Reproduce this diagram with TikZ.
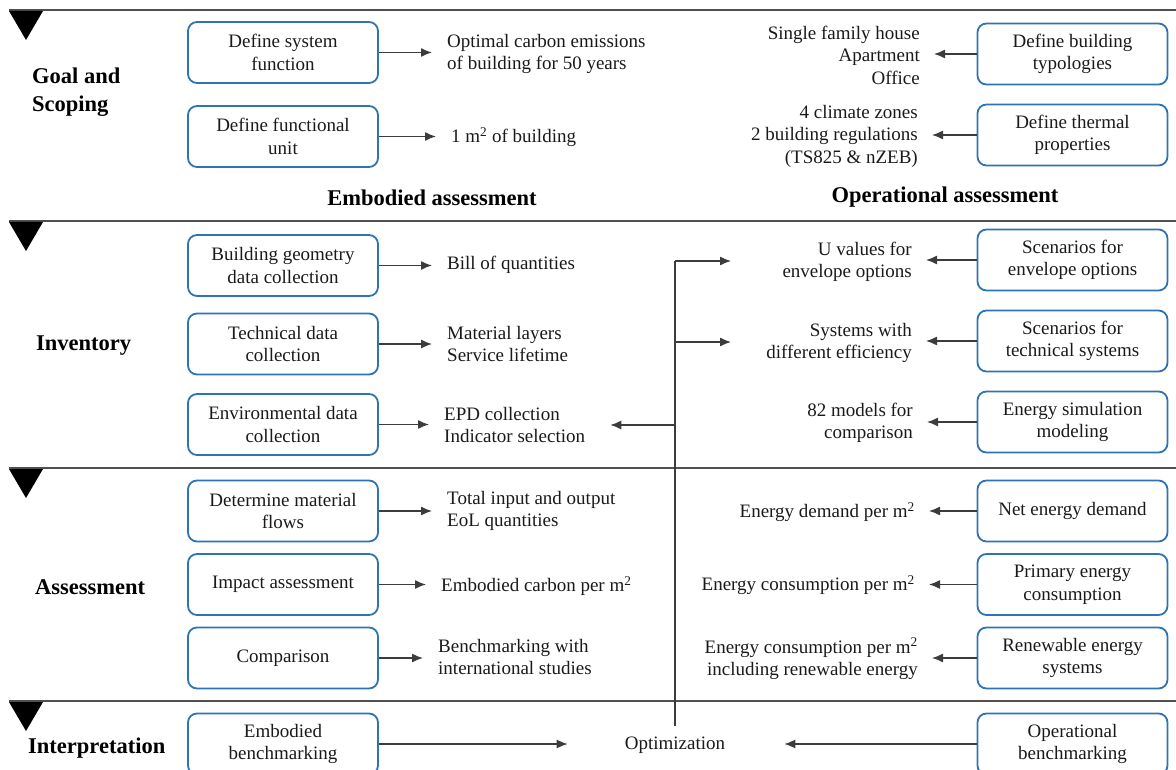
\documentclass[tikz,border=0pt]{standalone}
\usepackage{fontspec}
\setmainfont{Liberation Serif}
\usetikzlibrary{arrows.meta,calc}
\definecolor{boxblue}{HTML}{2E74B5}
\definecolor{sepgray}{HTML}{505050}
\definecolor{txt}{HTML}{1A1A1A}
\begin{document}
\begin{tikzpicture}[x=1pt,y=-1pt,
 stepbox/.style={draw=boxblue,line width=1.8pt,rounded corners=9pt,minimum width=190pt,minimum height=61pt,align=center,inner sep=2pt,font=\fontsize{19}{22.5}\selectfont,text=txt},
 lbl/.style={inner sep=0pt,font=\fontsize{19}{22.5}\selectfont,text=txt},
 lbll/.style={lbl,anchor=west,align=left},
 lblr/.style={lbl,anchor=east,align=right},
 phase/.style={inner sep=0pt,anchor=west,align=left,font=\fontsize{22.5}{28}\selectfont\bfseries,text=black},
 head/.style={inner sep=0pt,font=\fontsize{22.5}{28}\selectfont\bfseries,text=black},
 conn/.style={draw=txt!85,line width=1.3pt,-{Latex[length=11pt,width=9pt]}},
 trunk/.style={draw=txt!85,line width=1.3pt},
 sep/.style={draw=sepgray,line width=1.4pt},
 marker/.style={fill=black}
]
\useasboundingbox (0,0) rectangle (1176,770);

% separators and markers
\foreach \yy in {10,221,468,701}{
  \draw[sep] (9,\yy) -- (1176,\yy);
  \fill[marker] (9,\yy+1) -- (43,\yy+1) -- (26,\yy+30) -- cycle;
}

% phase labels
\node[phase] (pgoal) at (32,92) {Goal and\\Scoping};
\node[phase] (pinv) at (36,346) {Inventory};
\node[phase] (pass) at (35,587) {Assessment};
\node[phase] (pint) at (28,748) {Interpretation};

\node[head] (hemb) at (432,198) {Embodied assessment};
\node[head] (hop) at (945,197) {Operational assessment};

% left boxes
\node[stepbox] (sysfn) at (283,52.5) {Define system\\function};
\node[stepbox] (fu) at (283,136.5) {Define functional\\unit};
\node[stepbox] (geo) at (283,265.5) {Building geometry\\data collection};
\node[stepbox] (tech) at (283,344) {Technical data\\collection};
\node[stepbox] (env) at (283,424.5) {Environmental data\\collection};
\node[stepbox] (mat) at (283,511) {Determine material\\flows};
\node[stepbox] (imp) at (283,584.5) {Impact assessment};
\node[stepbox] (comp) at (283,658) {Comparison};
\node[stepbox] (emb) at (283,744) {Embodied\\benchmarking};

% right boxes
\node[stepbox] (typ) at (1072.5,54) {Define building\\typologies};
\node[stepbox] (therm) at (1072.5,135) {Define thermal\\properties};
\node[stepbox] (scenv) at (1072.5,260) {Scenarios for\\envelope options};
\node[stepbox] (sctech) at (1072.5,341) {Scenarios for\\technical systems};
\node[stepbox] (sim) at (1072.5,422) {Energy simulation\\modeling};
\node[stepbox] (net) at (1072.5,511) {Net energy demand};
\node[stepbox] (prim) at (1072.5,584.5) {Primary energy\\consumption};
\node[stepbox] (ren) at (1072.5,658) {Renewable energy\\systems};
\node[stepbox] (opb) at (1072.5,744) {Operational\\benchmarking};

% left texts
\node[lbll] (tsys) at (447,54) {Optimal carbon emissions\\of building for 50 years};
\node[lbll] (tfu) at (451,137) {1 m\textsuperscript{2} of building};
\node[lbll] (tgeo) at (447,265) {Bill of quantities};
\node[lbll] (ttech) at (447,344) {Material layers\\Service lifetime};
\node[lbll] (tenv) at (444,425) {EPD collection\\Indicator selection};
\node[lbll] (tmat) at (447,511) {Total input and output\\EoL quantities};
\node[lbll] (timp) at (441,586) {Embodied carbon per m\textsuperscript{2}};
\node[lbll] (tcomp) at (438,657) {Benchmarking with\\international studies};

% right texts
\node[lblr] (ttyp) at (920,55) {Single family house\\Apartment\\Office};
\node[lblr] (ttherm) at (918,136) {4 climate zones\\2 building regulations\\(TS825 \& nZEB)};
\node[lblr] (tscenv) at (912,262) {U values for\\envelope options};
\node[lblr] (tsctech) at (912,343) {Systems with\\different efficiency};
\node[lblr] (tsim) at (913,423) {82 models for\\comparison};
\node[lblr] (tnet) at (915,512) {Energy demand per m\textsuperscript{2}};
\node[lblr] (tprim) at (915,585) {Energy consumption per m\textsuperscript{2}};
\node[lblr] (tren) at (918,659) {Energy consumption per m\textsuperscript{2}\\including renewable energy};

\node[lbl] (optim) at (675,745) {Optimization};

% left arrows
\foreach \b/\t in {sysfn/tsys,fu/tfu,geo/tgeo,tech/ttech,env/tenv,mat/tmat,imp/timp,comp/tcomp}{
  \draw[conn] (\b.east) -- ($(\b.east -| \t.west)+(-15,0)$);
}
% right arrows
\foreach \b/\t in {typ/ttyp,therm/ttherm,scenv/tscenv,sctech/tsctech,sim/tsim,net/tnet,prim/tprim,ren/tren}{
  \draw[conn] (\b.west) -- ($(\b.west -| \t.east)+(14,0)$);
}

% interpretation
\draw[conn] (emb.east) -- ($(emb.east -| optim.west)+(-57,0)$);
\draw[conn] (opb.west) -- ($(opb.west -| optim.east)+(59,0)$);

% trunk from optimization
\coordinate (j1) at (675,261);
\coordinate (j2) at (675,342);
\coordinate (j3) at (675,425);
\draw[trunk] ($(optim.north)+(0,-10)$) -- (j1);
\draw[conn] (j1) -- ++(56,0);
\draw[conn] (j2) -- ++(56,0);
\draw[conn] (j3) -- ($(j3 -| tenv.east)+(25,0)$);
\end{tikzpicture}
\end{document}
